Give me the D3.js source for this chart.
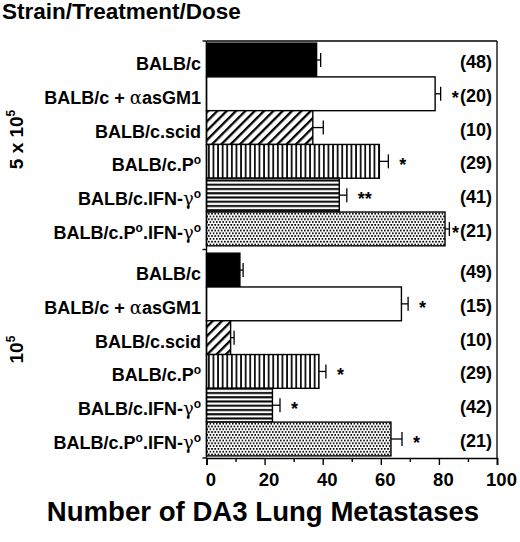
<!DOCTYPE html>
<html><head><meta charset="utf-8">
<script src="https://cdn.jsdelivr.net/npm/d3@7"></script>
<style>
body{margin:0;background:#fff}
svg{display:block}
text{font-family:"Liberation Sans",Arial,Helvetica,sans-serif;font-weight:bold;fill:#000}
</style>
</head><body>
<svg id="c" width="520" height="542"></svg>
<script>
// ---- data ----
const doses = ["5 x 10^5", "10^5"];
const strains = ["BALB/c", "BALB/c + αasGM1", "BALB/c.scid", "BALB/c.P^o", "BALB/c.IFN-γ^o", "BALB/c.P^o.IFN-γ^o"];
const fills = ["solid", "open", "diagonal", "vertical", "horizontal", "stipple"];
const meansHigh = [37.9, 78.7, 36.6, 59.5, 45.7, 82.1];
const errsHigh  = [1.4, 1.9, 3.6, 3.1, 2.6, 1.5];
const nHigh     = [48, 20, 10, 29, 41, 21];
const sigHigh   = ["", "*", "", "*", "**", "*"];
const meansLow  = [11.5, 67.1, 8.3, 38.7, 22.7, 63.5];
const errsLow   = [1.1, 2.3, 1.2, 2.4, 2.6, 3.8];
const nLow      = [49, 15, 10, 29, 42, 21];
const sigLow    = ["", "*", "", "*", "*", "*"];
const xTicks = [0, 20, 40, 60, 80, 100];
const xMinorTicks = [10, 30, 50, 70, 90];
const titleText = "Strain/Treatment/Dose";
const xTitle = "Number of DA3 Lung Metastases";

const rows = doses.flatMap((dose, gi) => strains.map((s, i) => ({
  dose, strain: s, fill: fills[i],
  mean: gi ? meansLow[i] : meansHigh[i],
  err: gi ? errsLow[i] : errsHigh[i],
  n: gi ? nLow[i] : nHigh[i],
  sig: gi ? sigLow[i] : sigHigh[i]
})));

// ---- layout ----
const svg = d3.select("#c");
const pLeft = 206.5, pRight = 497, pTop = 41, pBottom = 458;
const x = d3.scaleLinear().domain([0, 100]).range([pLeft, pRight]);
const yOuter = d3.scaleBand().domain(doses).range([pTop, pBottom]).paddingInner(0.035).paddingOuter(0.01);
const yInner = d3.scaleBand().domain(strains).range([0, yOuter.bandwidth()]);
const cy = d => yOuter(d.dose) + yInner(d.strain) + yInner.bandwidth() / 2;

// ---- patterns ----
const defs = svg.append("defs");
const pDiag = defs.append("pattern").attr("id", "diagonal").attr("patternUnits", "userSpaceOnUse")
  .attr("width", 6.6).attr("height", 6.6).attr("patternTransform", "rotate(45)");
pDiag.append("rect").attr("width", 6.6).attr("height", 6.6).attr("fill", "#fff");
pDiag.append("rect").attr("x", 0).attr("width", 2.3).attr("height", 6.6).attr("fill", "#000");
const pVert = defs.append("pattern").attr("id", "vertical").attr("patternUnits", "userSpaceOnUse")
  .attr("width", 4.6).attr("height", 10);
pVert.append("rect").attr("width", 4.6).attr("height", 10).attr("fill", "#fff");
pVert.append("rect").attr("x", 1).attr("width", 1.7).attr("height", 10).attr("fill", "#000");
const pHor = defs.append("pattern").attr("id", "horizontal").attr("patternUnits", "userSpaceOnUse")
  .attr("width", 10).attr("height", 4.25);
pHor.append("rect").attr("width", 10).attr("height", 4.25).attr("fill", "#fff");
pHor.append("rect").attr("y", 1).attr("width", 10).attr("height", 2).attr("fill", "#000");
const pSt = defs.append("pattern").attr("id", "stipple").attr("patternUnits", "userSpaceOnUse")
  .attr("width", 3.2).attr("height", 5.6);
pSt.append("rect").attr("width", 3.2).attr("height", 5.6).attr("fill", "#fff");
pSt.append("rect").attr("x", 0).attr("y", 0).attr("width", 1.7).attr("height", 1.7).attr("fill", "#000");
pSt.append("rect").attr("x", 1.6).attr("y", 2.8).attr("width", 1.7).attr("height", 1.7).attr("fill", "#000");

const fillFor = f => f === "solid" ? "#000" : f === "open" ? "#fff" : `url(#${f})`;

// ---- frame ----
svg.append("line").attr("x1", x(0)).attr("x2", x(100)).attr("y1", pTop).attr("y2", pTop)
  .attr("stroke", "#000").attr("stroke-width", 1.3);
svg.append("line").attr("x1", x(100)).attr("x2", x(100)).attr("y1", pTop).attr("y2", pBottom)
  .attr("stroke", "#000").attr("stroke-width", 1.3);

// ---- bars ----
svg.append("g").selectAll("rect").data(rows).join("rect")
  .attr("x", x(0))
  .attr("y", d => yOuter(d.dose) + yInner(d.strain))
  .attr("width", d => x(d.mean) - x(0))
  .attr("height", yInner.bandwidth())
  .attr("fill", d => fillFor(d.fill))
  .attr("stroke", "#000").attr("stroke-width", 1.4);

// ---- error bars ----
const eb = svg.append("g").attr("stroke", "#000").attr("stroke-width", 1.3);
eb.selectAll("line.h").data(rows).join("line").attr("class", "h")
  .attr("x1", d => x(d.mean)).attr("x2", d => x(d.mean + d.err))
  .attr("y1", cy).attr("y2", cy);
eb.selectAll("line.c").data(rows).join("line").attr("class", "c")
  .attr("x1", d => x(d.mean + d.err)).attr("x2", d => x(d.mean + d.err))
  .attr("y1", d => cy(d) - 7).attr("y2", d => cy(d) + 7);

// ---- significance stars ----
svg.append("g").selectAll("text").data(rows.filter(d => d.sig)).join("text")
  .attr("x", d => Math.min(x(d.mean + d.err) + 11, 452))
  .attr("y", d => cy(d) + 10)
  .attr("font-size", 18)
  .text(d => d.sig);

// ---- n labels ----
svg.append("g").selectAll("text").data(rows).join("text")
  .attr("x", 492).attr("y", d => cy(d) + 8)
  .attr("text-anchor", "end").attr("font-size", 18)
  .text(d => `(${d.n})`);

// ---- category labels ----
function richLabel(sel, s, supSize) {
  const parts = s.split(/(\^o|α|γ)/).filter(p => p !== "");
  let raised = false;
  parts.forEach(p => {
    if (p === "^o") {
      sel.append("tspan").attr("font-size", supSize).attr("dy", -7).text("o");
      raised = true;
    } else {
      const t = sel.append("tspan").text(p);
      if (raised) { t.attr("dy", 7); raised = false; }
      if (p === "α" || p === "γ") t.attr("font-weight", "normal").attr("font-family", "'DejaVu Serif',serif");
    }
  });
}
svg.append("g").selectAll("text").data(rows).join("text")
  .attr("x", 201).attr("y", d => cy(d) + 10)
  .attr("text-anchor", "end").attr("font-size", 18)
  .each(function(d) { richLabel(d3.select(this), d.strain, 12); });

// ---- dose labels (rotated) ----
svg.append("g").selectAll("text").data(doses).join("text")
  .attr("transform", d => `translate(23,${yOuter(d) + yOuter.bandwidth() / 2 - 5}) rotate(-90)`)
  .attr("text-anchor", "middle").attr("font-size", 19)
  .each(function(d) {
    const [base, exp] = d.split("^");
    const t = d3.select(this);
    t.append("tspan").text(base);
    t.append("tspan").attr("font-size", 12).attr("dy", -8).text(exp);
  });

// ---- x axis ----
const xAxis = d3.axisBottom(x).tickValues(xTicks.concat(xMinorTicks).sort((a, b) => a - b))
  .tickSizeOuter(0).tickSize(7)
  .tickFormat(v => xTicks.includes(v) ? String(v) : "");
const gx = svg.append("g").attr("transform", `translate(0,${pBottom})`).call(xAxis);
gx.attr("font-family", null).attr("font-size", null);
gx.select(".domain").attr("stroke", "#000").attr("stroke-width", 1.7);
gx.selectAll(".tick line").attr("stroke", "#000").attr("stroke-width", 1.4)
  .attr("y2", v => xTicks.includes(v) ? 7 : 4);
gx.selectAll(".tick text").attr("y", 28).attr("dy", 0).attr("dx", 4)
  .style("font-size", "18.5px").attr("fill", "#000");

// ---- y axis line with group ticks ----
const gy = svg.append("g").attr("stroke", "#000").attr("stroke-width", 1.4);
gy.append("line").attr("x1", x(0)).attr("x2", x(0)).attr("y1", pTop).attr("y2", pBottom);
const groupEdges = [pTop, (yOuter(doses[0]) + yOuter.bandwidth() + yOuter(doses[1])) / 2, pBottom];
gy.selectAll("line.t").data(groupEdges).join("line").attr("class", "t")
  .attr("x1", x(0) - 4).attr("x2", x(0)).attr("y1", d => d).attr("y2", d => d);

// ---- titles ----
svg.append("text").attr("x", 2).attr("y", 19).attr("font-size", 22.5).text(titleText);
svg.append("text").attr("x", 263).attr("y", 521).attr("text-anchor", "middle")
  .attr("font-size", 27.6).text(xTitle);
</script>
</body></html>
